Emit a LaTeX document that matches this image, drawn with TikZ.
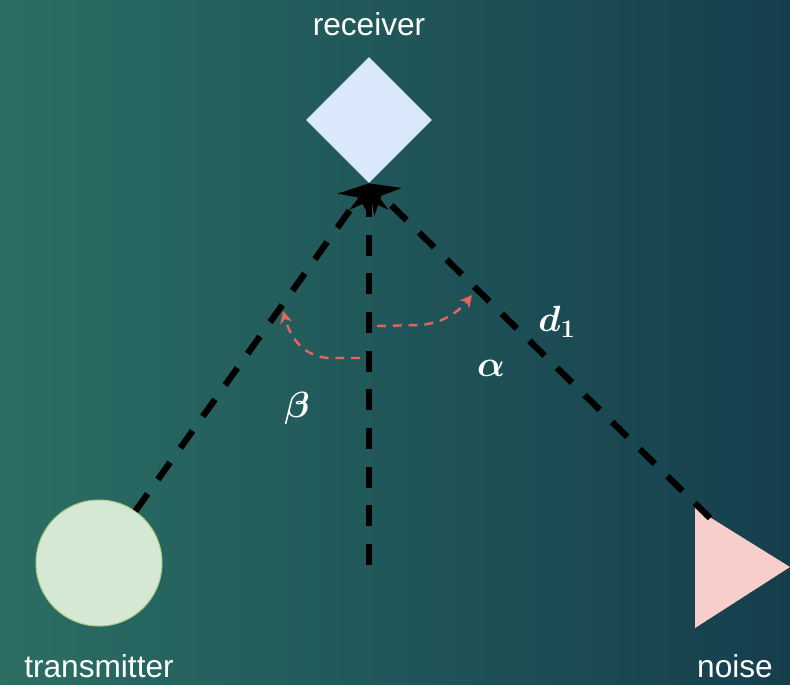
\documentclass[tikz,border=0pt]{standalone}
\usepackage{fontspec}
\setmainfont{Liberation Sans}
\usetikzlibrary{arrows.meta,shapes.geometric}

\begin{document}
\begin{tikzpicture}[x=0.02cm, y=-0.02cm, >=Stealth]
  \definecolor{bgleft}{RGB}{43,110,100}
  \definecolor{bgright}{RGB}{21,62,77}
  \definecolor{rxblue}{RGB}{218,232,252}
  \definecolor{txgreen}{RGB}{213,232,212}
  \definecolor{txedge}{RGB}{175,205,130}
  \definecolor{noisepink}{RGB}{248,206,204}
  \definecolor{anglered}{RGB}{222,104,94}

  \tikzset{
    labeltext/.style={text=white, font=\fontsize{18}{22}\selectfont, anchor=base},
    mathtext/.style={text=white, font=\fontsize{20}{24}\selectfont\boldmath},
    link/.style={line width=3.6pt, dash pattern=on 12pt off 10pt,
      -{Stealth[length=15pt, width=22pt, inset=5pt]}},
    sweep/.style={anglered, line width=1.4pt, dash pattern=on 5pt off 4pt,
      -{Stealth[length=7pt, width=7pt]}}
  }

  \shade[left color=bgleft, right color=bgright] (0,0) rectangle (790,684);
  \useasboundingbox (0,0) rectangle (790,684);

  % devices
  \node[diamond, fill=rxblue, minimum width=2.52cm, minimum height=2.52cm, inner sep=0pt] (rx) at (369,120) {};
  \node[circle, fill=txgreen, draw=txedge, line width=0.6pt, minimum size=2.52cm, inner sep=0pt] (tx) at (99,563) {};
  \fill[noisepink] (695,508) -- (790,567) -- (695,628) -- cycle;
  \coordinate (noise) at (710,518);
  \coordinate (mid) at (369,565);

  \node[labeltext] (rxlabel) at (369,35) {receiver};
  \node[labeltext] (txlabel) at (99,677) {transmitter};
  \node[labeltext] (noiselabel) at (735,677) {noise};

  % paths to the receiver
  \draw[link] (tx.55) -- (rx.south);
  \draw[link] (noise) -- (rx.south);
  \draw[link] (mid) -- (rx.south);

  % angles
  \coordinate (betastart) at (360,358);
  \coordinate (betaend) at (283,311);
  \coordinate (alphastart) at (377,326);
  \coordinate (alphaend) at (472,295);
  \draw[sweep] (betastart) -- (330,358) .. controls (305,357) and (291,340) .. (betaend);
  \draw[sweep] (alphastart) -- (420,325) .. controls (445,323) and (460,310) .. (alphaend);

  \node[mathtext] (beta) at (297,408) {$\beta$};
  \node[mathtext] (alpha) at (491,368) {$\alpha$};
  \node[mathtext] (dist) at (557,322) {$d_1$};

\end{tikzpicture}
\end{document}
